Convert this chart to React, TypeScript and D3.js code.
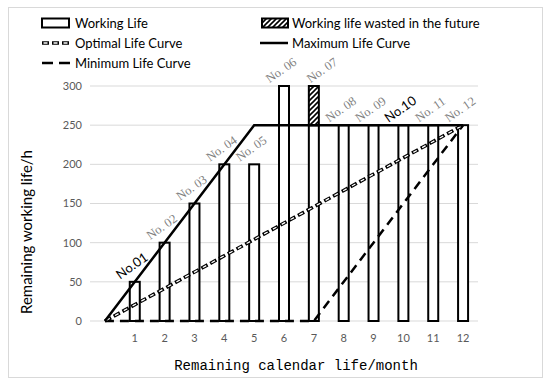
import React from 'react';
import * as d3 from 'd3';

// months 0..12, month 0 is only the starting point of the curves
const months = ['', '1', '2', '3', '4', '5', '6', '7', '8', '9', '10', '11', '12'];
const workingLife = [0, 50, 100, 150, 200, 200, 300, 250, 250, 250, 250, 250, 250];
const wastedLife = [0, 0, 0, 0, 0, 0, 0, 50, 0, 0, 0, 0, 0];
const barLabels = ['', 'No.01', 'No. 02', 'No. 03', 'No. 04', 'No. 05', 'No. 06', 'No. 07', 'No. 08', 'No. 09', 'No.10', 'No. 11', 'No. 12'];

const maxCurve: [number, number][] = [[0, 0], [5, 250], [12, 250]];
const optimalCurve: [number, number][] = [[0, 0], [12, 250]];
const minCurve: [number, number][] = [[0, 0], [7, 0], [12, 250]];

const yTicks = [0, 50, 100, 150, 200, 250, 300];

const W = 550;
const H = 384;
const plot = { left: 90, right: 478, top: 86, bottom: 321 };
const barW = 10;
const sans = 'Lato, "Open Sans", sans-serif';

const App: React.FC = () => {
  const xBand = d3.scaleBand<number>()
    .domain(months.map((_, i) => i))
    .range([plot.left, plot.right]);
  const cx = (i: number) => (xBand(i) as number) + xBand.bandwidth() / 2;
  const y = d3.scaleLinear().domain([0, 300]).range([plot.bottom, plot.top]);

  const line = d3.line<[number, number]>()
    .x(d => cx(d[0]))
    .y(d => y(d[1]));

  const gridColor = '#d9d9d9';

  return (
    <svg width={W} height={H} style={{ position: 'absolute', left: 0, top: 0, background: '#fff' }}>
      <defs>
        <pattern id="hatch" patternUnits="userSpaceOnUse" width="5" height="5">
          <path d="M-1,1 l2,-2 M0,5 l5,-5 M4,6 l2,-2" stroke="#000" strokeWidth={1.6} />
        </pattern>
      </defs>

      {/* outer frame */}
      <rect x={8.5} y={7.5} width={534} height={370} fill="#fff" stroke={gridColor} strokeWidth={1} />

      {/* grid + y ticks */}
      {yTicks.map(t => (
        <g key={t}>
          <line x1={plot.left} x2={plot.right} y1={y(t)} y2={y(t)} stroke={gridColor} strokeWidth={1} />
          <text x={82} y={y(t)} dy="0.35em" textAnchor="end" fontSize={11} fontFamily={sans} fill="#595959">{t}</text>
        </g>
      ))}

      {/* x ticks */}
      {months.map((m, i) => (
        <text key={i} x={cx(i)} y={338} dy="0.35em" textAnchor="middle" fontSize={11} fontFamily={sans} fill="#595959">{m}</text>
      ))}

      {/* bars */}
      {workingLife.map((v, i) => v > 0 && (
        <g key={i}>
          <rect x={cx(i) - barW / 2} y={y(v)} width={barW} height={y(0) - y(v)} fill="#fff" stroke="#000" strokeWidth={2} />
          {wastedLife[i] > 0 && (
            <rect x={cx(i) - barW / 2} y={y(v + wastedLife[i])} width={barW} height={y(v) - y(v + wastedLife[i])}
              fill="url(#hatch)" stroke="#000" strokeWidth={2} />
          )}
        </g>
      ))}

      {/* curves */}
      <path d={line(minCurve) as string} fill="none" stroke="#000" strokeWidth={2.5} strokeDasharray="9 6" />
      <path d={line(optimalCurve) as string} fill="none" stroke="#000" strokeWidth={3.5} strokeDasharray="7 3" />
      <path d={line(optimalCurve) as string} fill="none" stroke="#fff" strokeWidth={1.3} strokeDasharray="4 6" strokeDashoffset={-1.5} />
      <path d={line(maxCurve) as string} fill="none" stroke="#000" strokeWidth={2.5} />

      {/* bar labels */}
      {barLabels.map((lab, i) => {
        if (!lab) return null;
        const top = workingLife[i] + wastedLife[i];
        const lx = cx(i) - 3 + (wastedLife[i] > 0 ? 11 : 0);
        const ly = y(top) - 16;
        const bold = lab.indexOf(' ') < 0;
        return (
          <text key={i} x={0} y={0} dy="0.35em" textAnchor="middle"
            style={{ transform: `translate(${lx}px, ${ly}px) rotate(-35deg)` }}
            fontSize={bold ? 13 : 12.5}
            fontFamily={bold ? sans : '"Liberation Serif", "DejaVu Serif", serif'}
            fill={bold ? '#000' : '#7f7f7f'}>{lab}</text>
        );
      })}

      {/* axis titles */}
      <text x={0} y={0} transform="translate(27,232) rotate(-90)" dy="0.35em" textAnchor="middle" fontSize={15} fontFamily={sans} fill="#000">
        Remaining working life/h
      </text>
      <text x={296} y={365} dy="0.35em" textAnchor="middle" fontSize={14} fontFamily='"Liberation Mono", monospace' fill="#000">
        Remaining calendar life/month
      </text>

      {/* legend */}
      <g fontSize={13} fontFamily={sans} fill="#000">
        <rect x={42} y={18.5} width={27} height={9} fill="#fff" stroke="#000" strokeWidth={2} />
        <text x={75} y={23} dy="0.35em">Working Life</text>

        <line x1={42} x2={70} y1={43} y2={43} stroke="#000" strokeWidth={3.5} strokeDasharray="7 3" />
        <line x1={42} x2={70} y1={43} y2={43} stroke="#fff" strokeWidth={1.3} strokeDasharray="4 6" strokeDashoffset={-1.5} />
        <text x={75} y={43} dy="0.35em">Optimal Life Curve</text>

        <line x1={42} x2={70} y1={63} y2={63} stroke="#000" strokeWidth={2.5} strokeDasharray="11 6" />
        <text x={75} y={63} dy="0.35em">Minimum Life Curve</text>

        <rect x={262} y={18.5} width={26} height={9} fill="url(#hatch)" stroke="#000" strokeWidth={2} />
        <text x={292} y={23} dy="0.35em">Working life wasted in the future</text>

        <line x1={260} x2={288} y1={43} y2={43} stroke="#000" strokeWidth={2.5} />
        <text x={292} y={43} dy="0.35em">Maximum Life Curve</text>
      </g>
    </svg>
  );
};

export default App;
